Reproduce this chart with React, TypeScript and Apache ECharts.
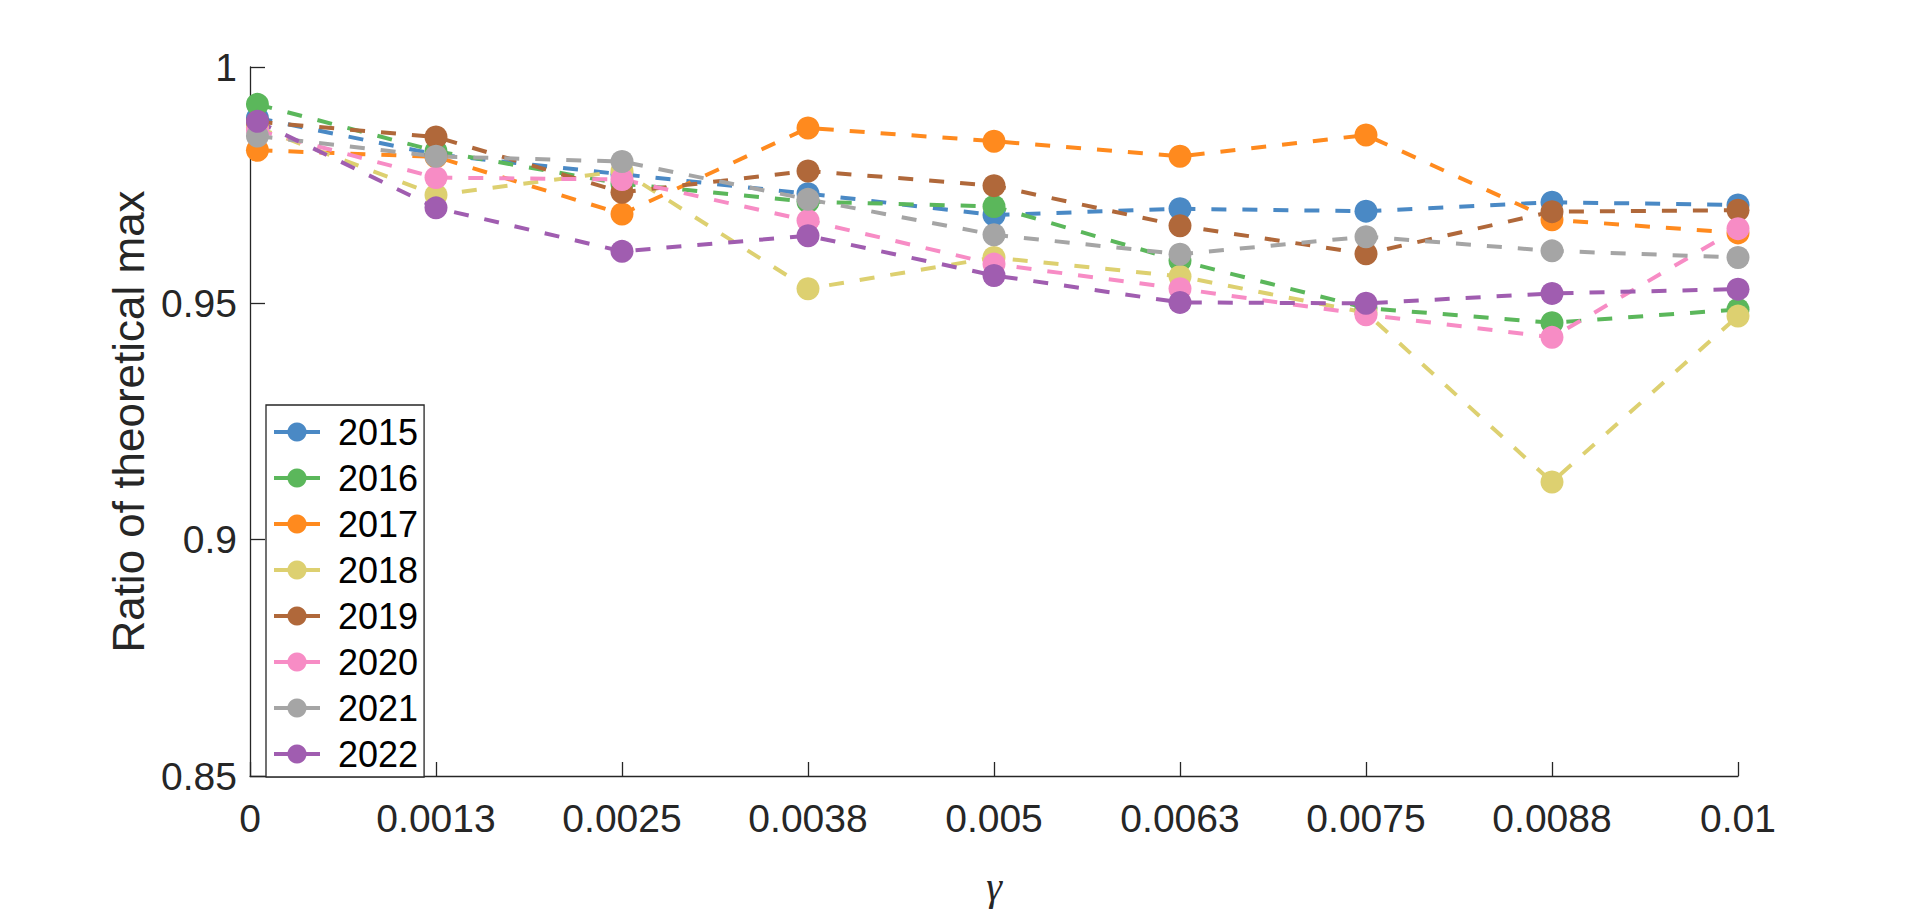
import React, { useEffect, useRef } from "react";
import * as echarts from "echarts";

const gammaValues = [0.00005, 0.00125, 0.0025, 0.00375, 0.005, 0.00625, 0.0075, 0.00875, 0.01];
const xTickLabels = ["0", "0.0013", "0.0025", "0.0038", "0.005", "0.0063", "0.0075", "0.0088", "0.01"];
const yTickLabels = ["0.85", "0.9", "0.95", "1"];

const years = ["2015", "2016", "2017", "2018", "2019", "2020", "2021", "2022"];
const colors = ["#4A89C5", "#5BB75B", "#FF8A1E", "#DDD070", "#B0683A", "#F78CC5", "#A5A5A5", "#A05DB0"];

const s2015 = [0.9892, 0.9815, 0.9773, 0.9732, 0.9687, 0.97, 0.9695, 0.9714, 0.9708];
const s2016 = [0.9921, 0.9822, 0.9753, 0.9715, 0.9705, 0.959, 0.949, 0.9459, 0.9487];
const s2017 = [0.9824, 0.981, 0.9689, 0.9871, 0.9843, 0.9811, 0.9856, 0.9677, 0.9649];
const s2018 = [0.9872, 0.9729, 0.978, 0.9531, 0.9597, 0.9557, 0.948, 0.9122, 0.9473];
const s2019 = [0.9884, 0.9852, 0.9735, 0.978, 0.9749, 0.9664, 0.9605, 0.9694, 0.9697];
const s2020 = [0.9866, 0.9766, 0.9762, 0.9675, 0.9583, 0.9531, 0.9476, 0.9428, 0.9658];
const s2021 = [0.9854, 0.9811, 0.98, 0.972, 0.9645, 0.9604, 0.9641, 0.9611, 0.9597];
const s2022 = [0.9885, 0.9702, 0.961, 0.9643, 0.9559, 0.9502, 0.95, 0.9521, 0.953];

const allSeries = [s2015, s2016, s2017, s2018, s2019, s2020, s2021, s2022];

const FONT = "'Liberation Sans', Arial, Helvetica, sans-serif";
const AXIS_COLOR = "#262626";

export default function App() {
  const ref = useRef<HTMLDivElement>(null);

  useEffect(() => {
    if (!ref.current) return;
    const chart = echarts.init(ref.current, undefined, { renderer: "svg" });
    const option = {
      animation: false,
      backgroundColor: "#ffffff",
      grid: { left: 250, right: 182, top: 67, bottom: 120, containLabel: false },
      xAxis: {
        type: "value",
        min: 0,
        max: 0.01,
        interval: 0.00125,
        name: "γ",
        nameLocation: "middle",
        nameGap: 90,
        nameTextStyle: { fontFamily: "'Liberation Serif', 'Times New Roman', serif", fontStyle: "italic", fontSize: 40, color: AXIS_COLOR },
        axisLine: { show: true, lineStyle: { color: AXIS_COLOR, width: 1.3 } },
        axisTick: { show: true, inside: true, length: 14, lineStyle: { color: AXIS_COLOR, width: 1.3 } },
        splitLine: { show: false },
        axisLabel: {
          fontFamily: FONT,
          fontSize: 39,
          color: AXIS_COLOR,
          margin: 23,
          formatter: (v: number) => xTickLabels[Math.round(v / 0.00125)] ?? "",
        },
      },
      yAxis: {
        type: "value",
        min: 0.85,
        max: 1,
        interval: 0.05,
        name: "Ratio of theoretical max",
        nameLocation: "middle",
        nameRotate: 90,
        nameGap: 100,
        nameTextStyle: { fontFamily: FONT, fontSize: 44, color: AXIS_COLOR },
        axisLine: { show: true, lineStyle: { color: AXIS_COLOR, width: 1.3 } },
        axisTick: { show: true, inside: true, length: 15, lineStyle: { color: AXIS_COLOR, width: 1.3 } },
        splitLine: { show: false },
        axisLabel: {
          fontFamily: FONT,
          fontSize: 39,
          color: AXIS_COLOR,
          margin: 13,
          formatter: (v: number) => yTickLabels[Math.round((v - 0.85) / 0.05)] ?? "",
        },
      },
      legend: {
        orient: "vertical",
        left: 266,
        top: 405,
        data: years,
        itemWidth: 46,
        itemHeight: 24,
        itemGap: 10,
        padding: [9, 6, 5, 6],
        borderColor: "#262626",
        borderWidth: 1.3,
        backgroundColor: "#ffffff",
        textStyle: { fontFamily: FONT, fontSize: 36, color: "#000000", lineHeight: 36, padding: [0, 0, 0, 13] },
        lineStyle: { type: "solid", width: 4 },
      },
      series: years.map((y, i) => ({
        name: y,
        type: "line",
        data: gammaValues.map((g, j) => [g, allSeries[i][j]]),
        symbol: "circle",
        symbolSize: 23,
        showSymbol: true,
        color: colors[i],
        itemStyle: { color: colors[i] },
        lineStyle: { color: colors[i], width: 4, type: [15, 16] },
        emphasis: { disabled: true },
      })),
    };
    chart.setOption(option);
    return () => chart.dispose();
  }, []);

  return (
    <div
      ref={ref}
      style={{ position: "fixed", left: 0, top: 0, width: "1920px", height: "911px", background: "#fff" }}
    />
  );
}
